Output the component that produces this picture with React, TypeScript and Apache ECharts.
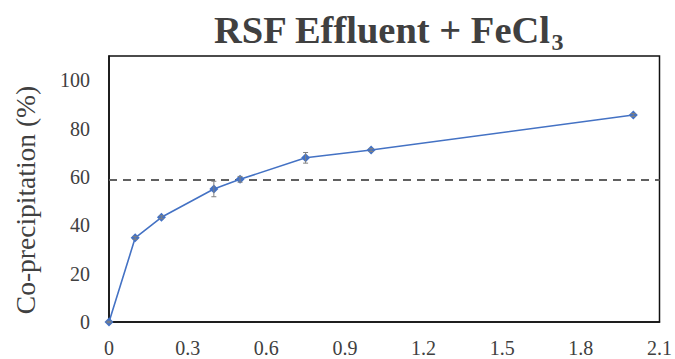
import React, { useEffect, useRef } from "react";
import * as echarts from "echarts";

const doses = [0, 0.1, 0.2, 0.4, 0.5, 0.75, 1.0, 2.0];
const coPrecip = [0, 34.8, 43.3, 55.0, 59.0, 67.9, 71.1, 85.6];
const errors = [0.3, 0.6, 0.6, 3.2, 1.2, 2.2, 0.6, 0.6];
const thresholdLine = 59;
const xTicks = { min: 0, max: 2.1, interval: 0.3 };
const yTicks = { min: 0, max: 110, interval: 20, labelMax: 100 };

const FONT = "Liberation Serif";
const TEXT = "#404040";

export default function App() {
  const ref = useRef<HTMLDivElement>(null);
  useEffect(() => {
    if (!ref.current) return;
    const chart = echarts.init(ref.current, null, { renderer: "svg" });
    const lineData = doses.map((d, i) => [d, coPrecip[i]]);
    const errData = doses.map((d, i) => [d, coPrecip[i] - errors[i], coPrecip[i] + errors[i]]);
    chart.setOption({
      animation: false,
      backgroundColor: "#ffffff",
      textStyle: { fontFamily: FONT },
      title: {
        text: "{a|RSF Effluent + FeCl}{b|3}",
        left: 214,
        top: 10,
        padding: 0,
        textStyle: {
          fontFamily: FONT,
          fontWeight: "bold",
          rich: {
            a: { fontSize: 38.5, fontWeight: "bold", fontFamily: FONT, color: TEXT, lineHeight: 40, verticalAlign: "top" },
            b: {
              fontSize: 24,
              fontWeight: "bold",
              fontFamily: FONT,
              color: TEXT,
              lineHeight: 24,
              verticalAlign: "top",
              padding: [20, 0, 0, 0],
            },
          },
        },
      },
      graphic: [
        {
          type: "text",
          x: 25,
          y: 200,
          rotation: Math.PI / 2,
          style: {
            text: "Co-precipitation (%)",
            fontSize: 27.5,
            fontFamily: FONT,
            fill: TEXT,
            textAlign: "center",
            textVerticalAlign: "middle",
          },
        },
      ],
      grid: {
        left: 109,
        right: 14,
        top: 56,
        bottom: 37,
        show: true,
        borderColor: "#111",
        borderWidth: 1.5,
        backgroundColor: "transparent",
      },
      xAxis: {
        type: "value",
        min: xTicks.min,
        max: xTicks.max,
        interval: xTicks.interval,
        axisLine: { show: true, lineStyle: { color: "#111", width: 1.5 } },
        axisTick: { show: false },
        splitLine: { show: false },
        axisLabel: {
          margin: 16,
          fontSize: 20,
          fontFamily: FONT,
          color: TEXT,
          formatter: (v: number) => (v === 0 ? "0" : v.toFixed(1)),
        },
      },
      yAxis: {
        type: "value",
        min: yTicks.min,
        max: yTicks.max,
        interval: yTicks.interval,
        axisLine: { show: true, lineStyle: { color: "#111", width: 1.5 } },
        axisTick: { show: false },
        splitLine: { show: false },
        axisLabel: {
          margin: 19,
          fontSize: 20,
          fontFamily: FONT,
          color: TEXT,
          formatter: (v: number) => (v > yTicks.labelMax ? "" : String(v)),
        },
      },
      series: [
        {
          type: "line",
          data: lineData,
          symbol: "diamond",
          symbolSize: 9,
          itemStyle: { color: "#4472C4" },
          lineStyle: { color: "#4472C4", width: 1.6 },
          z: 3,
          markLine: {
            silent: true,
            symbol: "none",
            label: { show: false },
            lineStyle: { color: "#606060", type: [8, 6], width: 2 },
            data: [{ yAxis: thresholdLine }],
            z: 2,
          },
        },
        {
          type: "custom",
          data: errData,
          z: 4,
          renderItem: (params: any, api: any) => {
            const x = api.value(0);
            const lo = api.coord([x, api.value(1)]);
            const hi = api.coord([x, api.value(2)]);
            const cap = 2.5;
            const style = { stroke: "#808080", lineWidth: 1 };
            return {
              type: "group",
              children: [
                { type: "line", shape: { x1: lo[0], y1: lo[1], x2: hi[0], y2: hi[1] }, style },
                { type: "line", shape: { x1: lo[0] - cap, y1: lo[1], x2: lo[0] + cap, y2: lo[1] }, style },
                { type: "line", shape: { x1: hi[0] - cap, y1: hi[1], x2: hi[0] + cap, y2: hi[1] }, style },
              ],
            };
          },
        },
      ],
    });
    return () => chart.dispose();
  }, []);
  return <div ref={ref} style={{ width: 675, height: 359, position: "absolute", left: 0, top: 0 }} />;
}
